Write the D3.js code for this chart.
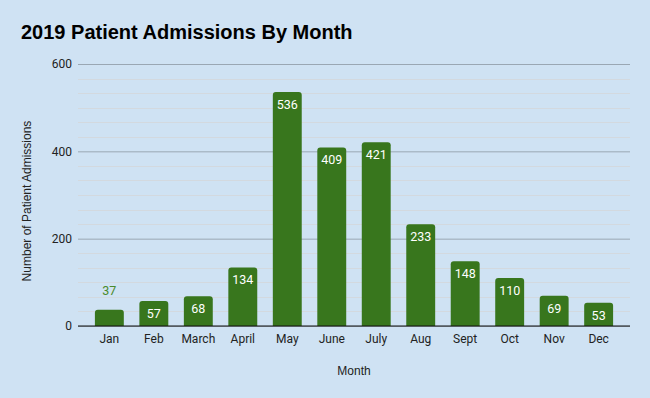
<!DOCTYPE html>
<html>
<head>
<meta charset="utf-8">
<script src="https://cdn.jsdelivr.net/npm/d3@7"></script>
<style>
  html, body { margin: 0; padding: 0; background: #cfe2f3; }
  svg { display: block; }
</style>
</head>
<body>
<div id="chart"></div>
<script>
// data
const months = ["Jan", "Feb", "March", "April", "May", "June", "July", "Aug", "Sept", "Oct", "Nov", "Dec"];
const admissions = [37, 57, 68, 134, 536, 409, 421, 233, 148, 110, 69, 53];
const yTicks = [0, 200, 400, 600];

const width = 650, height = 398;
const margin = {top: 64, right: 20, bottom: 72, left: 78};

const svg = d3.select("#chart")
  .append("svg")
  .attr("width", width)
  .attr("height", height);

svg.append("rect")
  .attr("width", width)
  .attr("height", height)
  .attr("fill", "#cfe2f3");

const xScale = d3.scaleBand()
  .domain(months)
  .range([margin.left, width - margin.right])
  .paddingInner(0.35)
  .paddingOuter(0.38);

const yScale = d3.scaleLinear()
  .domain([0, 600])
  .range([height - margin.bottom, margin.top]);

// minor gridlines (6 per major step)
const minor = d3.range(0, 600, 200 / 6).filter(v => Math.abs(v % 200) > 1 && Math.abs(v % 200 - 200) > 1);
svg.append("g")
  .selectAll("line")
  .data(minor)
  .join("line")
  .attr("x1", margin.left)
  .attr("x2", width - margin.right)
  .attr("y1", d => Math.round(yScale(d)) + 0.5)
  .attr("y2", d => Math.round(yScale(d)) + 0.5)
  .attr("stroke", "#d3d9df")
  .attr("stroke-width", 1);

// y axis with major gridlines
const yAxis = svg.append("g")
  .attr("transform", `translate(${margin.left},0)`)
  .call(d3.axisLeft(yScale)
    .tickValues(yTicks)
    .tickSize(-(width - margin.left - margin.right))
    .tickPadding(6));
yAxis.select(".domain").remove();
yAxis.selectAll(".tick line")
  .attr("stroke", "#9aa7b3");
yAxis.selectAll("text")
  .attr("font-family", "Roboto, Arial, sans-serif")
  .attr("font-size", "12px")
  .attr("fill", "#222");

// bars, rounded on top
const barR = 3;
svg.append("g")
  .selectAll("path")
  .data(admissions)
  .join("path")
  .attr("fill", "#38761d")
  .attr("d", (d, i) => {
    const x0 = xScale(months[i]);
    const w = xScale.bandwidth();
    const y0 = yScale(d);
    const yb = yScale(0);
    return `M${x0},${yb}V${y0 + barR}Q${x0},${y0} ${x0 + barR},${y0}` +
           `H${x0 + w - barR}Q${x0 + w},${y0} ${x0 + w},${y0 + barR}V${yb}Z`;
  });

// value labels: inside unless the bar is too short
const fits = d => (yScale(0) - yScale(d)) > 20;
svg.append("g")
  .selectAll("text")
  .data(admissions)
  .join("text")
  .attr("x", (d, i) => xScale(months[i]) + xScale.bandwidth() / 2)
  .attr("y", d => fits(d) ? yScale(d) + 17 : yScale(d) - 15)
  .attr("text-anchor", "middle")
  .attr("font-family", "Roboto, Arial, sans-serif")
  .attr("font-size", "12.5px")
  .attr("fill", d => fits(d) ? "#ffffff" : "#4a8a2a")
  .text(d => d);

// baseline
svg.append("line")
  .attr("x1", margin.left)
  .attr("x2", width - margin.right)
  .attr("y1", yScale(0))
  .attr("y2", yScale(0))
  .attr("stroke", "#111")
  .attr("stroke-width", 1.2);

// x axis labels
const xAxis = svg.append("g")
  .attr("transform", `translate(0,${yScale(0)})`)
  .call(d3.axisBottom(xScale).tickSize(0).tickPadding(8));
xAxis.select(".domain").remove();
xAxis.selectAll("text")
  .attr("font-family", "Roboto, Arial, sans-serif")
  .attr("font-size", "12px")
  .attr("fill", "#222");

// title
svg.append("text")
  .attr("x", 21)
  .attr("y", 39)
  .attr("font-family", "Liberation Sans, Arial, sans-serif")
  .attr("font-weight", "bold")
  .attr("font-size", "20px")
  .attr("fill", "#000")
  .text("2019 Patient Admissions By Month");

// axis titles
svg.append("text")
  .attr("x", 354)
  .attr("y", 375)
  .attr("text-anchor", "middle")
  .attr("font-family", "Liberation Sans, Arial, sans-serif")
  .attr("font-size", "12px")
  .attr("fill", "#222")
  .text("Month");

svg.append("text")
  .attr("transform", "translate(31,201) rotate(-90)")
  .attr("text-anchor", "middle")
  .attr("font-family", "Liberation Sans, Arial, sans-serif")
  .attr("font-size", "12px")
  .attr("fill", "#222")
  .text("Number of Patient Admissions");
</script>
</body>
</html>
